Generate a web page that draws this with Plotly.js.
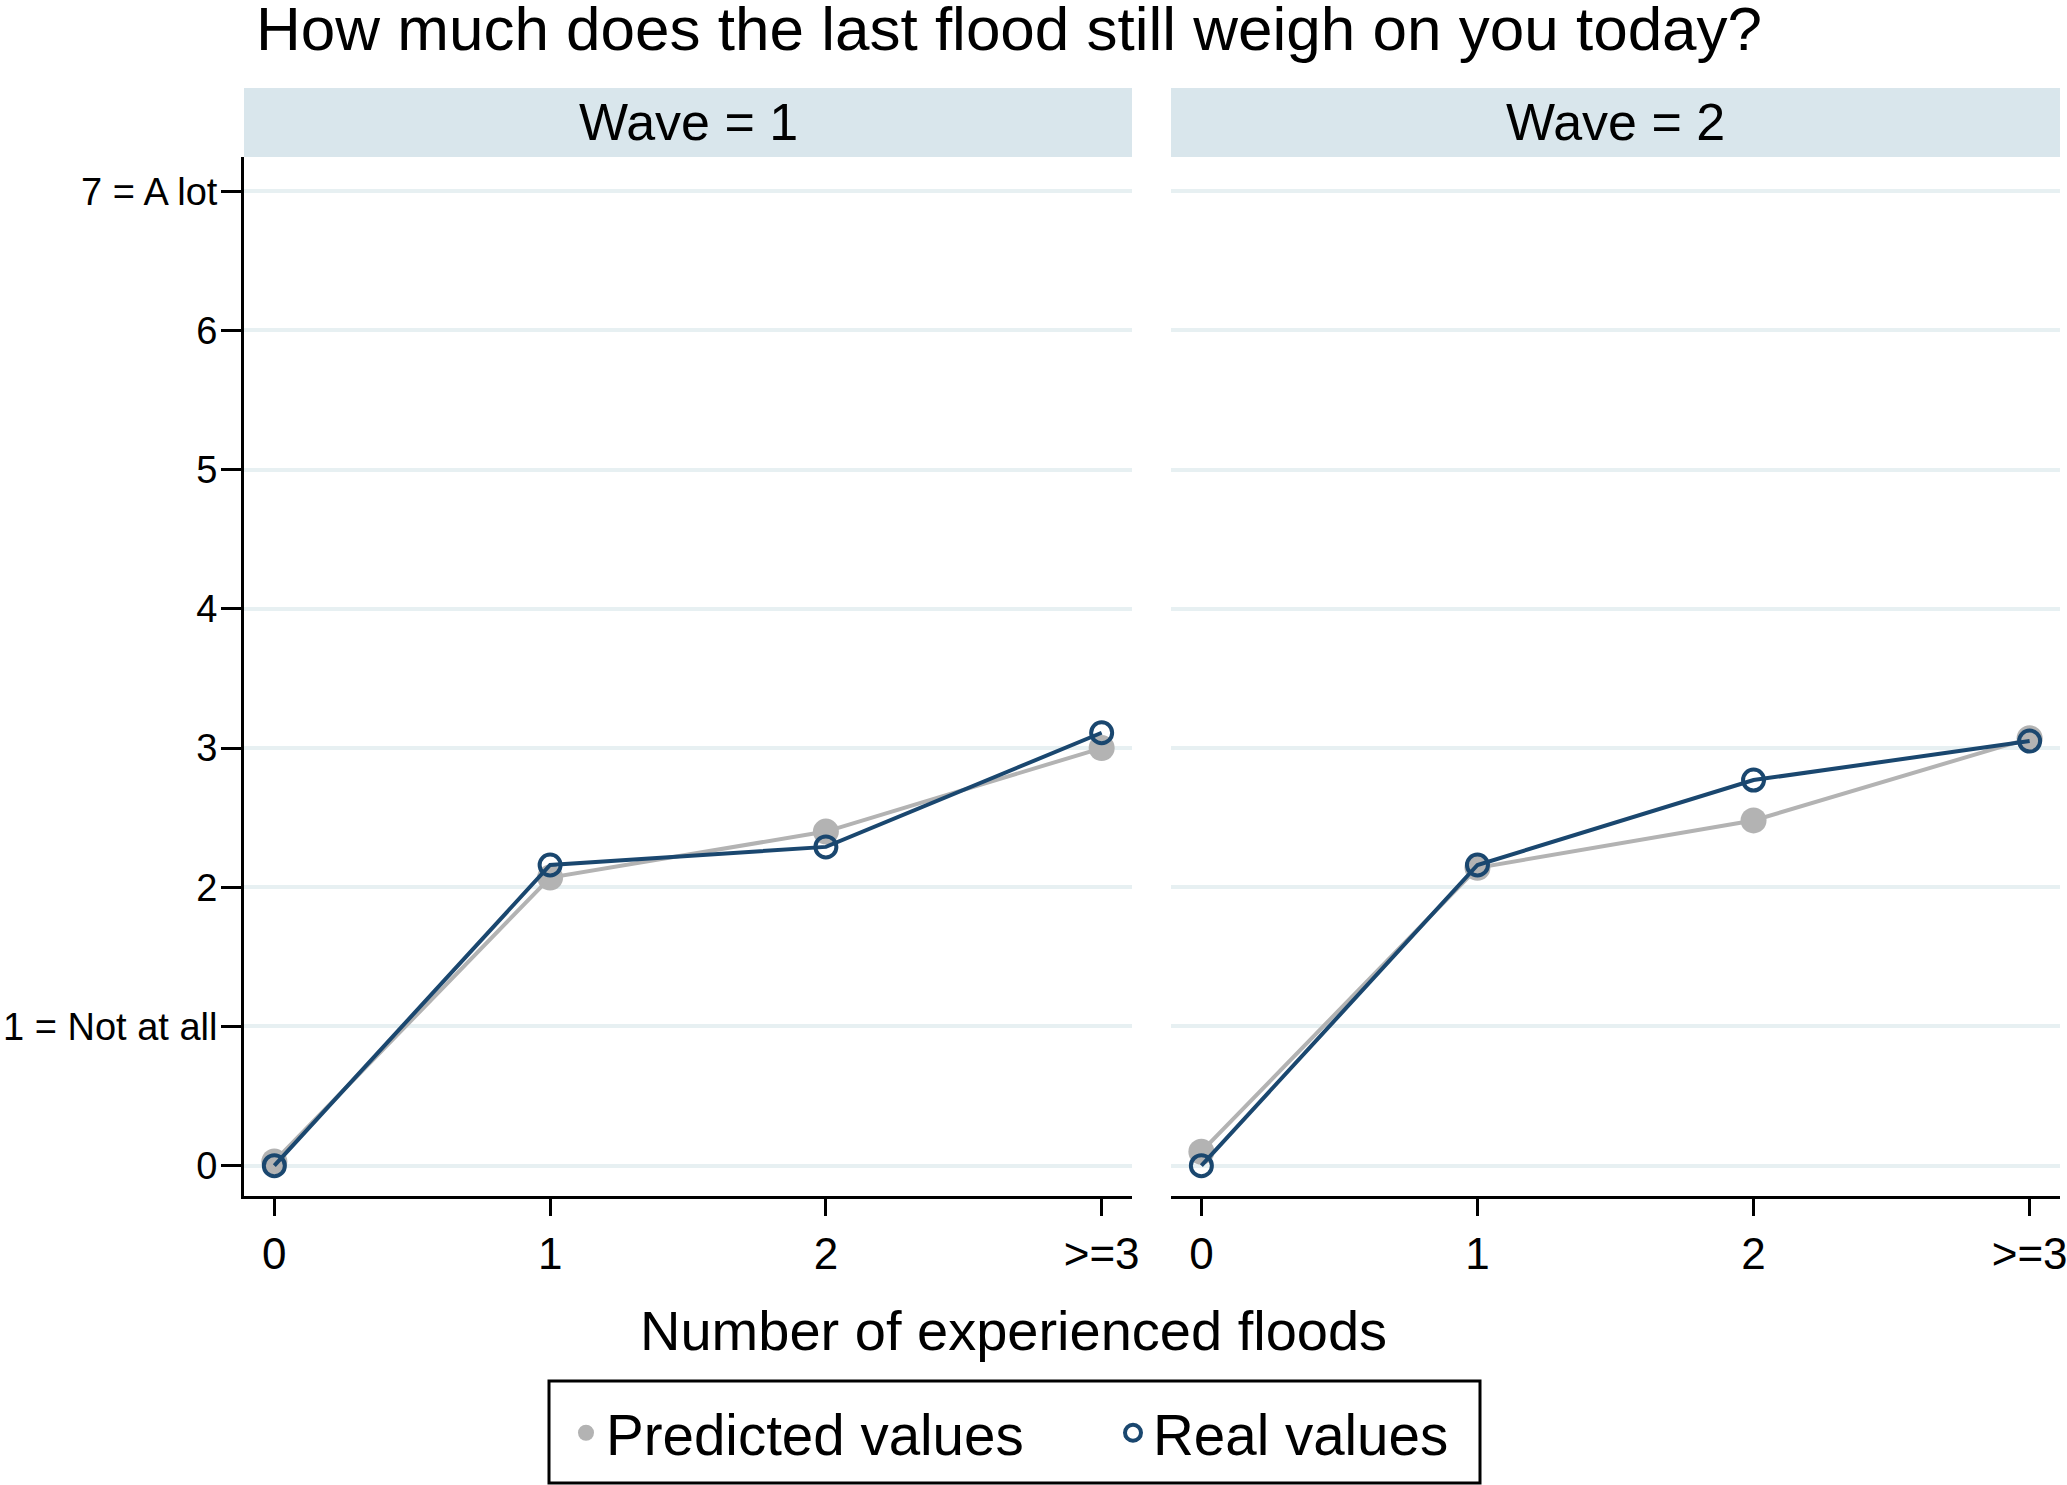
<!DOCTYPE html>
<html>
<head>
<meta charset="utf-8">
<script src="https://cdn.plot.ly/plotly-3.0.1.min.js"></script>
<style>html,body{margin:0;padding:0;background:#fff;}#chart{width:2067px;height:1485px;}</style>
</head>
<body>
<div id="chart"></div>
<script>
// ---- data ----
const xCats = [0, 1, 2, 3];
const xTickText = ["0", "1", "2", ">=3"];
const yTickVals = [0, 1, 2, 3, 4, 5, 6, 7];
const yTickText = ["0", "1 = Not at all", "2", "3", "4", "5", "6", "7 = A lot"];
const wave1Predicted = [0.03, 2.07, 2.40, 3.00];
const wave1Real      = [0.00, 2.16, 2.29, 3.11];
const wave2Predicted = [0.10, 2.14, 2.48, 3.07];
const wave2Real      = [0.00, 2.16, 2.77, 3.05];
const panelTitles = ["Wave = 1", "Wave = 2"];
const seriesNames = ["Predicted values", "Real values"];
const mainTitle = "How much does the last flood still weigh on you today?";
const xTitle = "Number of experienced floods";

// ---- styles ----
const W = 2067, H = 1485;
const GRAY = "#b3b3b3", BLUE = "#1a476f";
const FONT = "Liberation Sans, Arial, sans-serif";
const px = v => v / W;           // x pixel -> paper
const py = v => 1 - v / H;       // y pixel (from top) -> paper

const dom1 = [px(244), px(1132)];
const dom2 = [px(1171), px(2060)];
const ydom = [py(1196), py(157)];

function panel(pred, real, xa, ya, showLeg) {
  return [
    {x: xCats, y: pred, xaxis: xa, yaxis: ya, type: "scatter", mode: "lines",
     line: {color: GRAY, width: 4}, showlegend: false, hoverinfo: "skip"},
    {x: xCats, y: pred, xaxis: xa, yaxis: ya, type: "scatter", mode: "markers",
     marker: {color: GRAY, size: 26, symbol: "circle"}, name: seriesNames[0],
     legendgroup: "p", showlegend: showLeg, legendwidth: 502, legendrank: 1},
    {x: xCats, y: real, xaxis: xa, yaxis: ya, type: "scatter", mode: "lines",
     line: {color: BLUE, width: 4}, showlegend: false, hoverinfo: "skip"},
    {x: xCats, y: real, xaxis: xa, yaxis: ya, type: "scatter", mode: "markers",
     marker: {color: BLUE, size: 21, symbol: "circle-open", line: {color: BLUE, width: 4}},
     name: seriesNames[1], legendgroup: "r", showlegend: showLeg, legendwidth: 300, legendrank: 2}
  ];
}

const traces = [].concat(
  panel(wave1Predicted, wave1Real, "x", "y", true),
  panel(wave2Predicted, wave2Real, "x2", "y2", false)
);

const xBase = {
  range: [-0.11, 3.11], tickmode: "array", tickvals: xCats, ticktext: xTickText,
  showline: true, linecolor: "#000", linewidth: 3, mirror: false,
  ticks: "outside", ticklen: 17, tickwidth: 3, tickcolor: "#000",
  showgrid: false, zeroline: false, fixedrange: true, ticklabeloverflow: "allow",
  tickfont: {family: FONT, size: 44, color: "#000"}
};
const yBase = {
  range: [-0.218, 7.246], tickmode: "array", tickvals: yTickVals, ticktext: yTickText,
  showgrid: true, gridcolor: "#e7f0f2", gridwidth: 4, zeroline: false, fixedrange: true,
  domain: ydom
};

const layout = {
  width: W, height: H, autosize: false,
  margin: {l: 0, r: 0, t: 0, b: 0, pad: 0},
  paper_bgcolor: "#fff", plot_bgcolor: "#fff",
  font: {family: FONT, color: "#000"},
  title: {text: mainTitle, font: {family: FONT, size: 62, color: "#000"},
          xref: "paper", x: px(256), xanchor: "left",
          yref: "container", y: py(28), yanchor: "middle"},
  xaxis: Object.assign({}, xBase, {domain: dom1, anchor: "y"}),
  xaxis2: Object.assign({}, xBase, {domain: dom2, anchor: "y2"}),
  yaxis: Object.assign({}, yBase, {anchor: "x", showline: true, linecolor: "#000", linewidth: 3,
          ticks: "outside", ticklen: 20, tickwidth: 3, tickcolor: "#000", ticklabelstandoff: -4,
          ticklabeloverflow: "allow",
          tickfont: {family: FONT, size: 38, color: "#000"}}),
  yaxis2: Object.assign({}, yBase, {anchor: "x2", showline: false, ticks: "", showticklabels: false}),
  shapes: [
    {type: "rect", xref: "paper", yref: "paper", x0: dom1[0], x1: dom1[1], y0: py(157), y1: py(88),
     fillcolor: "#d9e6ec", line: {width: 0}, layer: "below"},
    {type: "rect", xref: "paper", yref: "paper", x0: dom2[0], x1: dom2[1], y0: py(157), y1: py(88),
     fillcolor: "#d9e6ec", line: {width: 0}, layer: "below"},
    {type: "rect", xref: "paper", yref: "paper", x0: px(549), x1: px(1480), y0: py(1483), y1: py(1381),
     fillcolor: "rgba(0,0,0,0)", line: {color: "#000", width: 3}, layer: "above"}
  ],
  annotations: [
    {text: panelTitles[0], xref: "paper", yref: "paper", x: (dom1[0] + dom1[1]) / 2, y: py(122),
     xanchor: "center", yanchor: "middle", showarrow: false, font: {family: FONT, size: 52, color: "#000"}},
    {text: panelTitles[1], xref: "paper", yref: "paper", x: (dom2[0] + dom2[1]) / 2, y: py(122),
     xanchor: "center", yanchor: "middle", showarrow: false, font: {family: FONT, size: 52, color: "#000"}},
    {text: xTitle, xref: "paper", yref: "paper", x: px(1013), y: py(1330),
     xanchor: "center", yanchor: "middle", showarrow: false, font: {family: FONT, size: 56, color: "#000"}}
  ],
  legend: {orientation: "h", xref: "paper", yref: "paper", x: px(566), y: py(1433),
           xanchor: "left", yanchor: "middle", borderwidth: 0,
           bgcolor: "rgba(0,0,0,0)", font: {family: FONT, size: 56.5, color: "#000"},
           itemsizing: "trace", traceorder: "normal"},
  showlegend: true,
  hovermode: false
};

Plotly.newPlot("chart", traces, layout, {staticPlot: true, displayModeBar: false});
</script>
</body>
</html>
